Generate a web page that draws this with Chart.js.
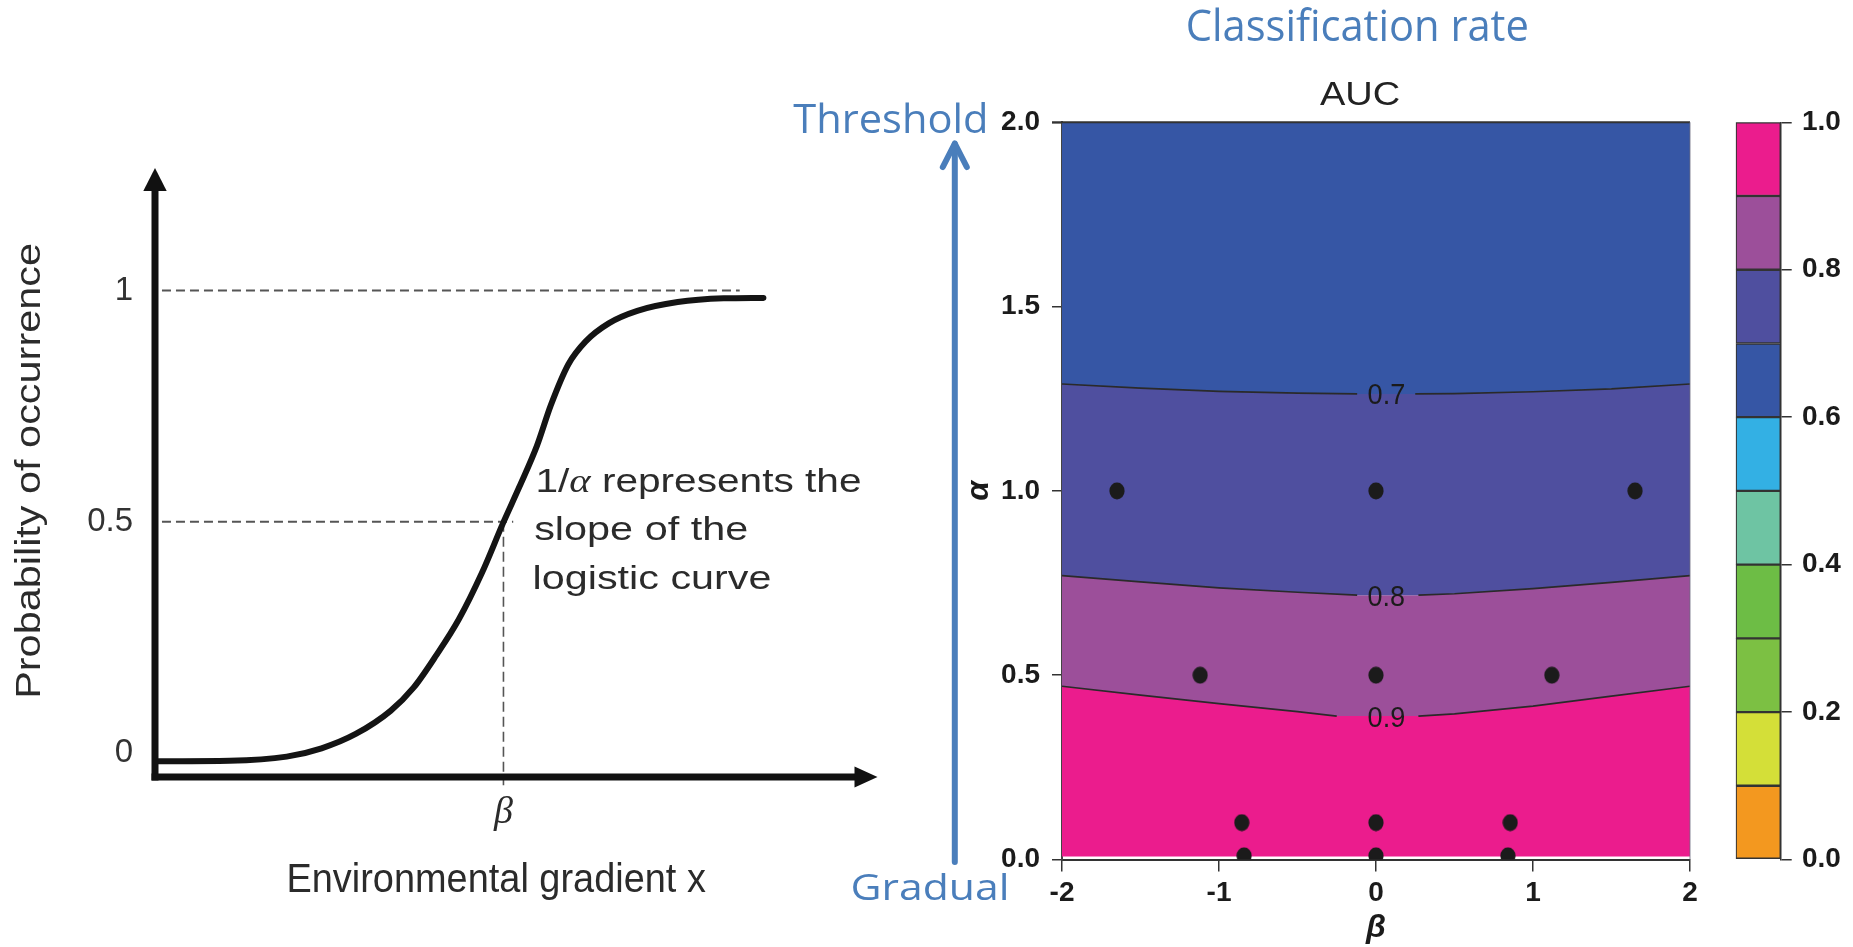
<!DOCTYPE html>
<html>
<head>
<meta charset="utf-8">
<script src="https://cdn.jsdelivr.net/npm/chart.js@4.4.1/dist/chart.umd.min.js"></script>
<style>
  html, body { margin: 0; padding: 0; background: #ffffff; width: 1853px; height: 947px; overflow: hidden; }
  canvas { position: absolute; top: 0; }
  #logistic { left: 0; width: 900px; height: 947px; }
  #auc { left: 780px; width: 940px; height: 947px; }
  #scale { left: 1720px; width: 133px; height: 947px; }
</style>
</head>
<body>
<canvas id="logistic" width="900" height="947"></canvas>
<canvas id="auc" width="940" height="947"></canvas>
<canvas id="scale" width="133" height="947"></canvas>
<script>
// ---------- Logistic response curve (left panel) ----------
// x: environmental gradient, centred so that beta sits at 0
const curveX = [-4.95, -3.93, -3.11, -2.61, -2.12, -1.62, -1.29, -0.96, -0.64, -0.31, 0.00, 0.23, 0.48, 0.68, 0.93, 1.18, 1.51, 1.92, 2.50, 3.16, 3.73];
const curveY = [-0.018, -0.017, -0.008, 0.010, 0.041, 0.091, 0.141, 0.212, 0.289, 0.389, 0.499, 0.576, 0.664, 0.752, 0.840, 0.890, 0.929, 0.956, 0.975, 0.983, 0.984];
const probTicks = [0, 0.5, 1];
const probTickLabels = ['0', '0.5', '1'];
const betaMark = 0;                 // position of beta on the gradient
const guideUpperX = [-4.9, 3.39];   // dashed guide at probability 1
const guideHalfX = [-4.9, 0.14];    // dashed guide at probability 0.5
const guideBetaY = [0.5, -0.07];    // dashed drop line at beta

// ---------- AUC surface over (beta, alpha) (right panel) ----------
const contourLevels = [0.7, 0.8, 0.9];
const beta07 = [-2, -1.5, -1, -0.5, -0.12, 0.25, 0.5, 1, 1.5, 2];
const alpha07 = [1.290, 1.279, 1.270, 1.265, 1.263, 1.263, 1.264, 1.269, 1.277, 1.290];
const beta08 = [-2, -1.5, -1, -0.5, -0.12, 0.27, 0.5, 1, 1.5, 2];
const alpha08 = [0.770, 0.753, 0.737, 0.725, 0.717, 0.717, 0.721, 0.735, 0.752, 0.770];
const beta09 = [-2, -1.5, -1, -0.5, -0.25, 0.27, 0.5, 1, 1.5, 2];
const alpha09 = [0.470, 0.446, 0.423, 0.401, 0.389, 0.389, 0.395, 0.416, 0.443, 0.470];

// simulated species (beta, alpha)
const siteBeta = [-1.65, 0, 1.65, -1.12, 0, 1.12, -0.855, 0, 0.855, -0.84, 0, 0.84];
const siteAlpha = [1, 1, 1, 0.5, 0.5, 0.5, 0.1, 0.1, 0.1, 0.01, 0.01, 0.01];

const betaTicks = [-2, -1, 0, 1, 2];
const betaTickLabels = ['-2', '-1', '0', '1', '2'];
const alphaTicks = [0, 0.5, 1, 1.5, 2];
const alphaTickLabels = ['0.0', '0.5', '1.0', '1.5', '2.0'];

// ---------- colour key ----------
const aucBreaks = [0, 0.1, 0.2, 0.3, 0.4, 0.5, 0.6, 0.7, 0.8, 0.9, 1.0];
const aucColors = ['#F3981F', '#D4DF38', '#7CC043', '#6DBD45', '#6EC4A3', '#33B0E4', '#3656A5', '#4F4F9F', '#9C4F9A', '#EB1C8D'];
const aucTicks = [0, 0.2, 0.4, 0.6, 0.8, 1.0];
const aucTickLabels = ['0.0', '0.2', '0.4', '0.6', '0.8', '1.0'];

const BLUE = '#4A7EBB';
const INK = '#1b1b1b';

// Draws text whose ink box is fitted to a given width and cap height.
function drawFit(ctx, runs, o) {
  const S = 100;
  ctx.save();
  const widths = [];
  let total = 0, inkL = 0, inkR = 0;
  runs.forEach((r, i) => {
    ctx.font = r.f(S);
    const m = ctx.measureText(r.t);
    if (i === 0) inkL = m.actualBoundingBoxLeft;
    if (i === runs.length - 1) inkR = total + m.actualBoundingBoxRight;
    widths.push(m.width);
    total += m.width;
  });
  ctx.font = runs[0].f(S);
  const cap = ctx.measureText('H').actualBoundingBoxAscent;
  const sx = o.w / (inkL + inkR);
  const sy = o.cap / cap;
  ctx.translate(o.x, o.y);
  if (o.rot) ctx.rotate(o.rot);
  ctx.scale(sx, sy);
  ctx.fillStyle = o.color;
  ctx.textAlign = 'left';
  ctx.textBaseline = 'alphabetic';
  let cx = inkL;
  runs.forEach((r, i) => { ctx.font = r.f(S); ctx.fillText(r.t, cx, 0); cx += widths[i]; });
  ctx.restore();
}
const sans = s => `${s}px "Liberation Sans", Arial, sans-serif`;
const serifItalic = s => `italic ${s}px "Liberation Serif", "Times New Roman", serif`;
const office = s => `${s}px "Open Sans", sans-serif`;

// ---------- left chart ----------
const arrowAxes = {
  id: 'arrowAxes',
  afterDatasetsDraw(chart) {
    const { ctx, chartArea: a } = chart;
    ctx.save();
    ctx.fillStyle = '#111';
    ctx.strokeStyle = '#111';
    ctx.lineWidth = 7;
    ctx.lineCap = 'butt';
    // vertical axis with arrow head
    ctx.beginPath();
    ctx.moveTo(a.left, a.bottom + 3.5);
    ctx.lineTo(a.left, a.top + 20);
    ctx.stroke();
    ctx.beginPath();
    ctx.moveTo(a.left, a.top);
    ctx.lineTo(a.left - 11.7, a.top + 23);
    ctx.lineTo(a.left + 11.7, a.top + 23);
    ctx.closePath();
    ctx.fill();
    // horizontal axis with arrow head
    const tip = a.right + 37.5;
    ctx.beginPath();
    ctx.moveTo(a.left - 3.5, a.bottom);
    ctx.lineTo(tip - 20, a.bottom);
    ctx.stroke();
    ctx.beginPath();
    ctx.moveTo(tip, a.bottom);
    ctx.lineTo(tip - 23, a.bottom - 10.5);
    ctx.lineTo(tip - 23, a.bottom + 10.5);
    ctx.closePath();
    ctx.fill();
    ctx.restore();
  },
  afterDraw(chart) {
    const ctx = chart.ctx;
    const grey = '#2b2b2b';
    drawFit(ctx, [{ t: 'Probability of occurrence', f: sans }], { x: 40, y: 695.5, w: 451, cap: 24.5, rot: -Math.PI / 2, color: grey });
    drawFit(ctx, [{ t: 'Environmental gradient x', f: sans }], { x: 289.5, y: 891.7, w: 416, cap: 28.3, color: grey });
    drawFit(ctx, [{ t: '1/', f: sans }, { t: 'α', f: serifItalic }, { t: ' represents the', f: sans }], { x: 538.3, y: 491.7, w: 321.7, cap: 23.3, color: grey });
    drawFit(ctx, [{ t: 'slope of the', f: sans }], { x: 535, y: 540, w: 211.7, cap: 23.3, color: grey });
    drawFit(ctx, [{ t: 'logistic curve', f: sans }], { x: 535, y: 589, w: 235, cap: 23.3, color: grey });
  }
};

const dashed = { borderColor: '#555', borderWidth: 2, borderDash: [9, 5], pointRadius: 0, fill: false };

new Chart(document.getElementById('logistic'), {
  type: 'line',
  data: {
    datasets: [
      {
        data: curveX.map((x, i) => ({ x, y: curveY[i] })),
        borderColor: '#141414', borderWidth: 6, pointRadius: 0, fill: false,
        cubicInterpolationMode: 'monotone', borderCapStyle: 'round'
      },
      Object.assign({ data: guideUpperX.map(x => ({ x, y: 1 })) }, dashed),
      Object.assign({ data: guideHalfX.map(x => ({ x, y: 0.5 })) }, dashed),
      Object.assign({ data: guideBetaY.map(y => ({ x: betaMark, y })), clip: false }, dashed, { borderWidth: 1.6, borderDash: [10, 5] })
    ]
  },
  options: {
    responsive: false, animation: false, devicePixelRatio: 1,
    layout: { padding: { left: 0, top: 168, right: 60, bottom: 0 } },
    plugins: { legend: { display: false }, tooltip: { enabled: false } },
    scales: {
      x: {
        type: 'linear', min: -5, max: 4.829,
        grid: { display: false, drawTicks: false }, border: { display: false },
        afterBuildTicks: s => { s.ticks = [{ value: betaMark }]; },
        ticks: { callback: () => 'β', font: { family: '"Liberation Serif", serif', style: 'italic', size: 38 }, color: '#2b2b2b', padding: 13, maxRotation: 0 },
        afterFit: s => { s.height = 170; }
      },
      y: {
        type: 'linear', min: -0.0521, max: 1.2649,
        grid: { display: false, drawTicks: false }, border: { display: false },
        afterBuildTicks: s => { s.ticks = probTicks.map(v => ({ value: v })); },
        ticks: { callback: (v, i) => probTickLabels[i], font: { family: '"Liberation Sans", Arial, sans-serif', size: 33 }, color: '#333', padding: 22 },
        afterFit: s => { s.width = 155; }
      }
    }
  },
  plugins: [arrowAxes]
});

// ---------- right chart ----------
const OFF = 780; // page x of this canvas
const dot = document.createElement('canvas');
dot.width = 16; dot.height = 18;
(() => {
  const d = dot.getContext('2d');
  d.fillStyle = '#1b1b1b';
  d.beginPath();
  d.ellipse(8, 9, 7.6, 8.4, 0, 0, Math.PI * 2);
  d.fill();
})();

// contour lines are broken where their level label sits
const labelGaps = [[-0.12, 0.25], [-0.12, 0.27], [-0.25, 0.27]];
const labelBeta = 0.065;
function brokenLine(bs, as, gap) {
  const pts = [];
  bs.forEach((b, i) => {
    pts.push({ x: b, y: as[i] });
    if (Math.abs(b - gap[0]) < 1e-9) pts.push({ x: (gap[0] + gap[1]) / 2, y: null });
  });
  return pts;
}
const asPoints = (bs, as) => bs.map((b, i) => ({ x: b, y: as[i] }));
const contourLine = { borderColor: '#2a2a2a', borderWidth: 1.7, pointRadius: 0, tension: 0, fill: false, spanGaps: false };
const band = { borderWidth: 0, pointRadius: 0, tension: 0 };

const aucDecor = {
  id: 'aucDecor',
  afterDraw(chart) {
    const { ctx, chartArea: a, scales } = chart;
    ctx.save();
    // top and right frame
    ctx.strokeStyle = '#333';
    ctx.lineWidth = 2;
    ctx.beginPath();
    ctx.moveTo(a.left - 10, a.top);
    ctx.lineTo(a.right, a.top);
    ctx.stroke();
    ctx.strokeStyle = 'rgba(110,110,130,0.7)';
    ctx.lineWidth = 1.2;
    ctx.beginPath();
    ctx.moveTo(a.right, a.top);
    ctx.lineTo(a.right, a.bottom);
    ctx.stroke();
    ctx.restore();

    // contour labels
    const mins = [Math.min(...alpha07), Math.min(...alpha08), Math.min(...alpha09)];
    contourLevels.forEach((lev, i) => {
      const cx = scales.x.getPixelForValue(labelBeta);
      const cy = scales.y.getPixelForValue(mins[i]);
      drawFit(ctx, [{ t: lev.toFixed(1), f: sans }], { x: cx - 17.8, y: cy + 10.5, w: 35.7, cap: 20, color: '#1b1b1b' });
    });

    drawFit(ctx, [{ t: 'AUC', f: sans }], { x: 1320 - OFF, y: 105, w: 79, cap: 23.3, color: '#222' });
    drawFit(ctx, [{ t: 'Classification rate', f: office }], { x: 1188.3 - OFF, y: 40.7, w: 338.4, cap: 31.5, color: BLUE });
    drawFit(ctx, [{ t: 'Threshold', f: office }], { x: 793.3 - OFF, y: 133.3, w: 191.7, cap: 29, color: BLUE });
    drawFit(ctx, [{ t: 'Gradual', f: office }], { x: 853 - OFF, y: 900, w: 153, cap: 27, color: BLUE });

    // gradual -> threshold arrow
    ctx.save();
    ctx.strokeStyle = BLUE;
    ctx.lineWidth = 6;
    ctx.lineCap = 'round';
    ctx.lineJoin = 'round';
    const ax = 954.8 - OFF;
    ctx.beginPath();
    ctx.moveTo(ax, 862);
    ctx.lineTo(ax, 144);
    ctx.stroke();
    ctx.beginPath();
    ctx.moveTo(ax - 12, 167);
    ctx.lineTo(ax, 143.5);
    ctx.lineTo(ax + 12, 167);
    ctx.stroke();
    ctx.restore();
  }
};

new Chart(document.getElementById('auc'), {
  type: 'line',
  data: {
    datasets: [
      // 0: simulated species
      { data: siteBeta.map((x, i) => ({ x, y: siteAlpha[i] })), showLine: false, pointStyle: dot, pointRadius: 8, clip: 0, order: 0 },
      // 1-4: filled AUC bands
      Object.assign({ data: asPoints(beta07, alpha07), fill: 'end', backgroundColor: aucColors[6], order: 5 }, band),
      Object.assign({ data: asPoints(beta08, alpha08), fill: 1, backgroundColor: aucColors[7], order: 6 }, band),
      Object.assign({ data: asPoints(beta09, alpha09), fill: 2, backgroundColor: aucColors[8], order: 7 }, band),
      Object.assign({ data: asPoints(beta09, alpha09), fill: { value: 0.008 }, backgroundColor: aucColors[9], order: 8 }, band),
      // 5-7: contour lines
      Object.assign({ data: brokenLine(beta07, alpha07, labelGaps[0]), order: 1 }, contourLine),
      Object.assign({ data: brokenLine(beta08, alpha08, labelGaps[1]), order: 2 }, contourLine),
      Object.assign({ data: brokenLine(beta09, alpha09, labelGaps[2]), order: 3 }, contourLine)
    ]
  },
  options: {
    responsive: false, animation: false, devicePixelRatio: 1,
    layout: { padding: { left: 0, top: 122.3, right: 30, bottom: 0 } },
    plugins: { legend: { display: false }, tooltip: { enabled: false } },
    scales: {
      x: {
        type: 'linear', min: -2, max: 2,
        afterBuildTicks: s => { s.ticks = betaTicks.map(v => ({ value: v })); },
        ticks: { callback: (v, i) => betaTickLabels[i], font: { family: '"Liberation Sans", Arial, sans-serif', weight: 'bold', size: 28 }, color: INK, padding: 5, maxRotation: 0, autoSkip: false },
        grid: { drawOnChartArea: false, drawTicks: true, tickLength: 12, color: '#333', lineWidth: 1.5 },
        border: { display: true, color: '#333', width: 2 },
        title: { display: true, text: 'β', font: { family: '"Liberation Sans", Arial, sans-serif', weight: 'bold', style: 'italic', size: 32 }, color: INK, padding: { top: 0, bottom: 0 } },
        afterFit: s => { s.height = 87.5; }
      },
      y: {
        type: 'linear', min: 0, max: 2,
        afterBuildTicks: s => { s.ticks = alphaTicks.map(v => ({ value: v })); },
        ticks: { callback: (v, i) => alphaTickLabels[i], font: { family: '"Liberation Sans", Arial, sans-serif', weight: 'bold', size: 28 }, color: INK, padding: 12, autoSkip: false },
        grid: { drawOnChartArea: false, drawTicks: true, tickLength: 10, color: '#333', lineWidth: 1.5 },
        border: { display: true, color: '#444', width: 2 },
        title: { display: true, text: 'α', font: { family: '"Liberation Sans", Arial, sans-serif', weight: 'bold', style: 'italic', size: 32 }, color: INK, padding: { top: 179.8, bottom: 0 } },
        afterFit: s => { s.width = 282; }
      }
    }
  },
  plugins: [aucDecor]
});

// ---------- colour key ----------
new Chart(document.getElementById('scale'), {
  type: 'bar',
  data: {
    labels: [''],
    datasets: aucColors.map((c, i) => ({
      data: [aucBreaks[i + 1] - aucBreaks[i]],
      backgroundColor: c, borderColor: '#333', borderWidth: 1.5, borderSkipped: false,
      barPercentage: 1, categoryPercentage: 1
    }))
  },
  options: {
    responsive: false, animation: false, devicePixelRatio: 1,
    layout: { padding: { left: 15.7, top: 122.3, right: 0, bottom: 87.5 } },
    plugins: { legend: { display: false }, tooltip: { enabled: false } },
    scales: {
      x: { stacked: true, display: false },
      y: {
        stacked: true, position: 'right', min: 0, max: 1,
        afterBuildTicks: s => { s.ticks = aucTicks.map(v => ({ value: v })); },
        ticks: { callback: (v, i) => aucTickLabels[i], font: { family: '"Liberation Sans", Arial, sans-serif', weight: 'bold', size: 28 }, color: INK, padding: 10.3, autoSkip: false },
        grid: { drawOnChartArea: false, drawTicks: true, tickLength: 11, color: '#333', lineWidth: 1.5 },
        border: { display: true, color: '#333', width: 1.5 },
        afterFit: s => { s.width = 72.3; }
      }
    }
  }
});
</script>
</body>
</html>
